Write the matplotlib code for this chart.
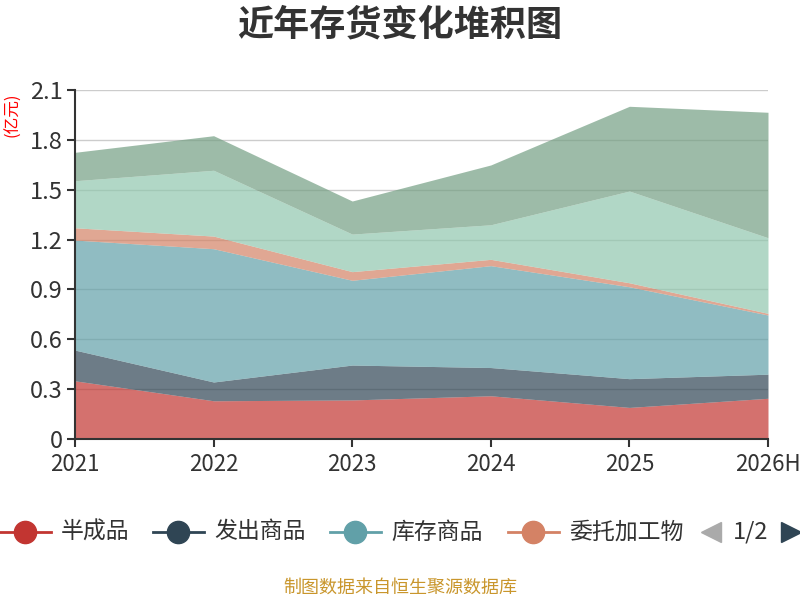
import numpy as np
import matplotlib.pyplot as plt
from matplotlib.lines import Line2D

plt.rcParams['font.family'] = ['Noto Sans CJK SC', 'DejaVu Sans']

years = ['2021', '2022', '2023', '2024', '2025', '2026H']
names = ['半成品', '发出商品', '库存商品', '委托加工物', '原材料', '在产品']
colors = ['#c23531', '#2f4554', '#61a0a8', '#d48265', '#91c7ae', '#749f83']

banchengpin = [0.35, 0.23, 0.235, 0.26, 0.19, 0.245]
fachu = [0.185, 0.113, 0.21, 0.17, 0.173, 0.145]
kucun = [0.662, 0.802, 0.51, 0.613, 0.553, 0.356]
weituo = [0.074, 0.076, 0.052, 0.038, 0.024, 0.01]
yuancailiao = [0.283, 0.396, 0.226, 0.208, 0.552, 0.455]
zaichanpin = [0.171, 0.208, 0.199, 0.36, 0.51, 0.755]

series = [banchengpin, fachu, kucun, weituo, yuancailiao, zaichanpin]
yticks = [0, 0.3, 0.6, 0.9, 1.2, 1.5, 1.8, 2.1]
ytick_labels = ['0', '0.3', '0.6', '0.9', '1.2', '1.5', '1.8', '2.1']

fig = plt.figure(figsize=(8, 6), dpi=100)
ax = fig.add_axes([75 / 800, 161 / 600, 693 / 800, 349 / 600])

x = np.arange(len(years))
base = np.zeros(len(years))
for vals, c in zip(series, colors):
    top = base + np.array(vals)
    ax.fill_between(x, base, top, color=c, alpha=0.7, linewidth=0, zorder=2)
    base = top

ax.set_xlim(0, len(years) - 1)
ax.set_ylim(0, 2.1)
ax.set_xticks(x)
ax.set_xticklabels(years, fontsize=16, color='#333333')
ax.set_yticks(yticks)
ax.set_yticklabels(ytick_labels, fontsize=17, color='#333333')
ax.grid(axis='y', color='#cccccc', linewidth=1, zorder=1)
ax.set_axisbelow(True)
for s in ['top', 'right']:
    ax.spines[s].set_visible(False)
for s in ['left', 'bottom']:
    ax.spines[s].set_color('#333333')
    ax.spines[s].set_linewidth(1.5)
ax.tick_params(axis='both', direction='out', length=6, width=1.5, color='#333333')
ax.tick_params(axis='x', pad=4)
ax.tick_params(axis='y', pad=3)

fig.text(0.5, 1 - 25 / 600, '近年存货变化堆积图', ha='center', va='center',
         fontsize=26, fontweight='bold', color='#333333')
fig.text(13 / 800, 1 - 115 / 600, '(亿元)', rotation=90, ha='center', va='center',
         fontsize=12, color='#ff0000')

# legend (page 1 of 2)
leg_y = 1 - 532 / 600
item_x = [0, 153, 330, 508]
for i in range(4):
    x0 = item_x[i]
    fig.add_artist(Line2D([x0 / 800, (x0 + 51) / 800], [leg_y, leg_y],
                          color=colors[i], linewidth=2))
    fig.add_artist(Line2D([(x0 + 25) / 800], [leg_y], marker='o', markersize=16,
                          color=colors[i], linestyle='none'))
    fig.text((x0 + 61) / 800, leg_y, names[i], ha='left', va='center',
             fontsize=16.5, color='#333333')
fig.add_artist(Line2D([711 / 800], [leg_y], marker='<', markersize=15,
                      color='#aaaaaa', linestyle='none'))
fig.text(751 / 800, leg_y, '1/2', ha='center', va='center', fontsize=17, color='#333333')
fig.add_artist(Line2D([791 / 800], [leg_y], marker='>', markersize=15,
                      color='#2f4554', linestyle='none'))

fig.text(0.5, 1 - 588 / 600, '制图数据来自恒生聚源数据库', ha='center', va='center',
         fontsize=13, color='#c9962c')

fig.savefig('out.png', dpi=100)
